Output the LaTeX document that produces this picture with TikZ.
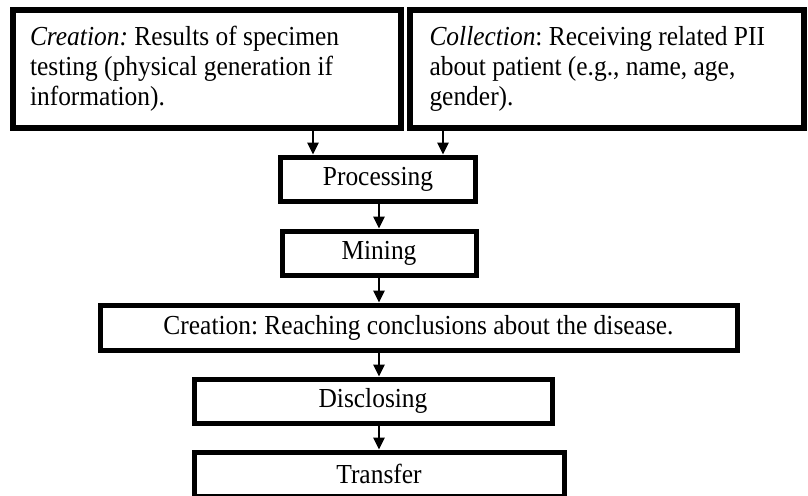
\documentclass[tikz,border=0pt]{standalone}
\usepackage{fontspec}
\setmainfont{Liberation Serif}[FakeStretch=0.925]
\usetikzlibrary{arrows.meta}
\begin{document}
\frenchspacing
\begin{tikzpicture}[x=0.5pt,y=-0.5pt,
  bigbox/.style={draw=black, line width=3pt, fill=white, inner ysep=0pt,
    align=flush left, font=\fontsize{13.75}{15}\selectfont\frenchspacing},
  stepbox/.style={draw=black, line width=2.5pt, fill=white, inner sep=0pt,
    align=center, font=\fontsize{13.75}{15}\selectfont\frenchspacing},
  arr/.style={line width=1.3pt, -{Triangle[length=6pt,width=5.5pt]}}]
\useasboundingbox (0,0) rectangle (808,495);
\fill[white] (0,0) rectangle (808,495);
\begin{scope}
\clip (0,0) rectangle (808,495);
\node[bigbox, inner xsep=8.75pt, minimum width=194pt, minimum height=59pt, text width=176.5pt] (c1) at (206.5,68.5)
  {\textit{Creation:} Results of specimen\\testing (physical generation if\\information).};
\node[bigbox, inner xsep=9.75pt, minimum width=197pt, minimum height=59pt, text width=177.5pt] (c2) at (607,68.5)
  {\textit{Collection}: Receiving related PII\\about patient (e.g., name, age,\\gender).};
\node[stepbox, minimum width=97.5pt, minimum height=22pt] (proc) at (378,179) {Processing};
\node[stepbox, minimum width=97pt, minimum height=22pt] (mine) at (379,253) {Mining};
\node[stepbox, minimum width=318.5pt, minimum height=22.5pt] (concl) at (418.5,327.5)
  {Creation: Reaching conclusions about the disease.};
\node[stepbox, minimum width=179pt, minimum height=22pt] (disc) at (373,401) {Disclosing};
\node[stepbox, minimum width=185pt, minimum height=22pt] (trans) at (379,474) {Transfer};
\coordinate (xa) at (313,0);
\coordinate (xb) at (443,0);
\coordinate (xm) at (379,0);
\draw[arr] (c1.south -| xa) -- (proc.north -| xa);
\draw[arr] (c2.south -| xb) -- (proc.north -| xb);
\draw[arr] (proc.south -| xm) -- (mine.north -| xm);
\draw[arr] (mine.south -| xm) -- (concl.north -| xm);
\draw[arr] (concl.south -| xm) -- (disc.north -| xm);
\draw[arr] (disc.south -| xm) -- (trans.north -| xm);
\end{scope}
\end{tikzpicture}
\end{document}
